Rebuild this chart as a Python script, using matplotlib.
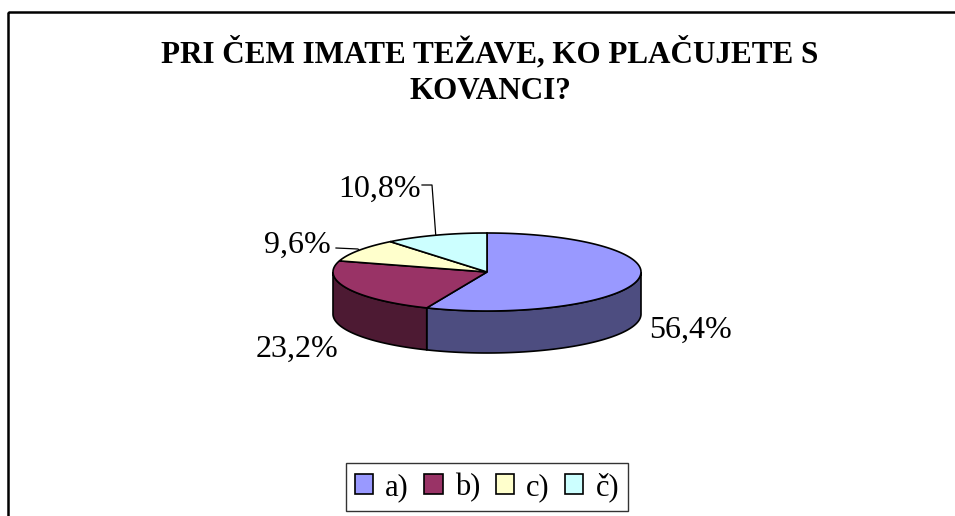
import numpy as np
import matplotlib
matplotlib.use("Agg")
import matplotlib.pyplot as plt
from matplotlib.patches import Polygon, Patch, Rectangle

# ---- data ----
categories = ["a)", "b)", "c)", "č)"]
values = [56.4, 23.2, 9.6, 10.8]
value_labels = ["56,4%", "23,2%", "9,6%", "10,8%"]
top_colors = ["#9999FF", "#993366", "#FFFFCC", "#CCFFFF"]
side_colors = ["#4D4D80", "#4D1A33", "#80806A", "#6A8080"]
title = "PRI ČEM IMATE TEŽAVE, KO PLAČUJETE S\nKOVANCI?"

# ---- layout (pixels) ----
W, H = 955, 516
cx, cy = 487, 272      # centre of top ellipse
rx, ry = 154, 39       # ellipse radii
depth = 42             # pie thickness
label_pos = [(690, 330), (297, 349), (297, 245), (380, 189)]

fig = plt.figure(figsize=(W / 100, H / 100), dpi=100)
ax = fig.add_axes([0, 0, 1, 1])
ax.set_xlim(0, W)
ax.set_ylim(H, 0)
ax.axis("off")

# chart frame
ax.add_patch(Rectangle((7.5, 11.5), 1000, 1000, fill=False, edgecolor="black", lw=1.8))

def ell(theta, dy=0.0):
    return cx + rx * np.cos(theta), cy - ry * np.sin(theta) + dy

fr = np.array(values) / np.sum(values)
start = np.pi / 2
angles = []
for f in fr:
    end = start - f * 2 * np.pi
    angles.append((start, end))
    start = end

# sides (front half only)
for (a0, a1), sc in zip(angles, side_colors):
    lo, hi = a1, a0
    for shift in (0, -2 * np.pi, 2 * np.pi):
        s_lo = max(lo + shift, -np.pi)
        s_hi = min(hi + shift, 0)
        if s_hi > s_lo:
            t = np.linspace(s_hi, s_lo, 120)
            xs, ys = ell(t)
            xb, yb = ell(t[::-1], depth)
            pts = np.column_stack([np.r_[xs, xb], np.r_[ys, yb]])
            ax.add_patch(Polygon(pts, closed=True, facecolor=sc, edgecolor="black", lw=1.2))

# tops
for (a0, a1), tc in zip(angles, top_colors):
    t = np.linspace(a0, a1, 200)
    xs, ys = ell(t)
    pts = np.column_stack([np.r_[cx, xs], np.r_[cy, ys]])
    ax.add_patch(Polygon(pts, closed=True, facecolor=tc, edgecolor="black", lw=1.2, joinstyle="miter"))

# labels
serif = ["Liberation Serif", "DejaVu Serif"]
for lab, (lx, ly) in zip(value_labels, label_pos):
    ax.text(lx, ly, lab, fontsize=23, family=serif, ha="center", va="center")

# leader lines for small slices
mid_c = ell((angles[2][0] + angles[2][1]) / 2)
ax.plot([336, 358, mid_c[0]], [248, 249, mid_c[1]], color="black", lw=0.9)
mid_d = ell((angles[3][0] + angles[3][1]) / 2)
ax.plot([422, 432, mid_d[0]], [185, 185, mid_d[1]], color="black", lw=0.9)

# title
ax.text(490, 71, title, fontsize=22.4, family=serif, fontweight="bold",
        ha="center", va="center", linespacing=1.35)

# legend
handles = [Patch(facecolor=c, edgecolor="black", lw=1.2) for c in top_colors]
leg = fig.legend(handles, categories, loc="center", bbox_to_anchor=(487 / W, 1 - 487 / H),
                 ncol=4, frameon=True, fancybox=False, edgecolor="black",
                 prop={"family": serif, "size": 22}, handlelength=0.6, handleheight=0.6,
                 handletextpad=0.4, columnspacing=0.5, borderpad=0.3)
leg.get_frame().set_linewidth(1.0)

fig.savefig("out.png", dpi=100, facecolor="white")
